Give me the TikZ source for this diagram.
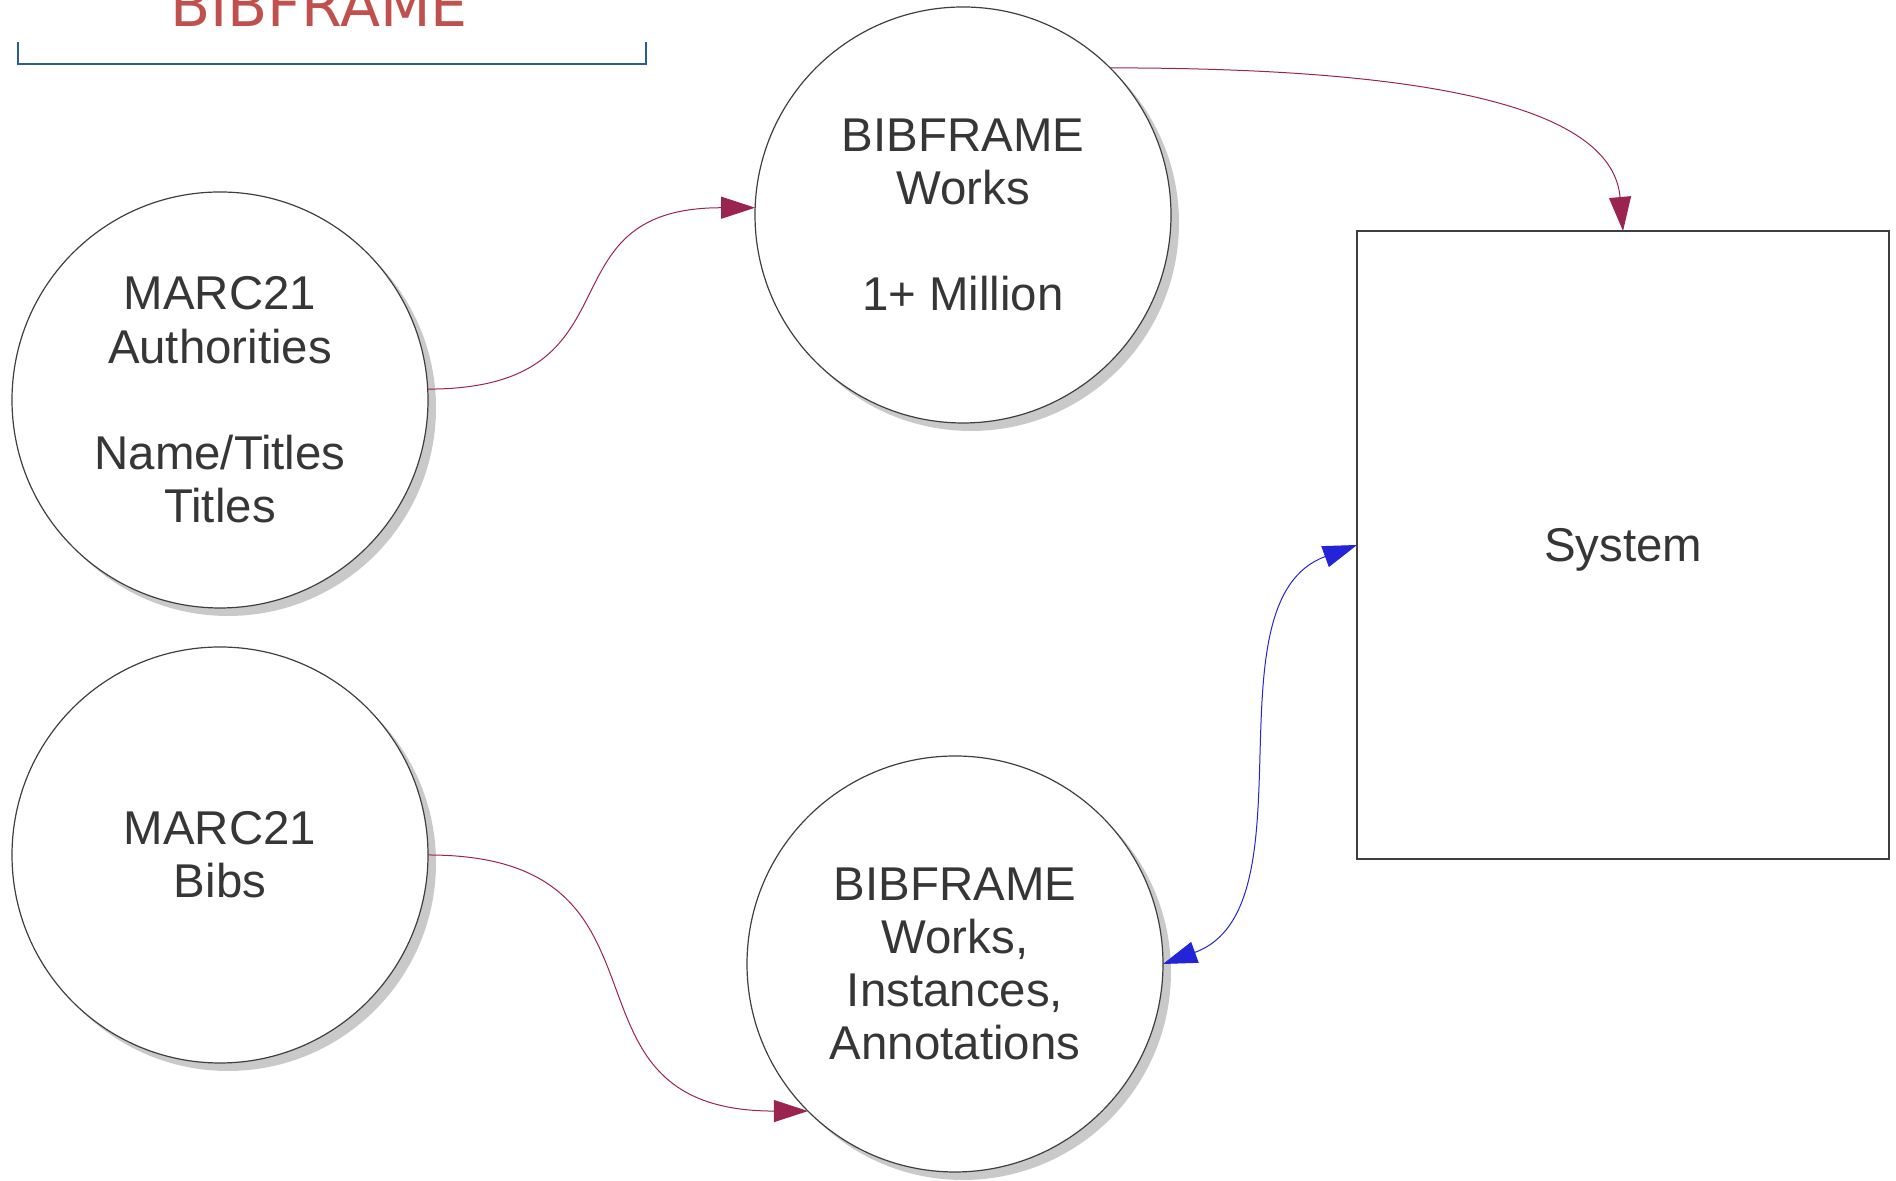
\documentclass[tikz,border=0pt]{standalone}
\usepackage{fontspec}
\setmainfont{Liberation Sans}
\newfontfamily\titlefont{DejaVu Sans}
\usepackage{xcolor}
\usepackage{tikz}
\usetikzlibrary{arrows.meta, positioning, shadows}
\definecolor{textgray}{HTML}{363636}
\definecolor{linegray}{HTML}{3F3F3F}
\definecolor{crimson}{HTML}{9B2350}
\definecolor{flowblue}{HTML}{2323D8}
\definecolor{titlered}{HTML}{C0504D}
\definecolor{bracketblue}{HTML}{2A5C9A}
\tikzset{%
  >={Triangle[width=11pt, length=17pt]},
  base/.style = {draw = linegray, line width = 0.6pt, text = textgray, text centered, align = center, inner sep = 0pt, outer sep = 0pt, font = \fontsize{23.7}{26.6}\selectfont},
  Store/.style = {base, circle, minimum size = 208pt, fill = white, drop shadow = {shadow xshift = 4pt, shadow yshift = -4pt, fill = black!21, opacity = 1}},
  Process/.style = {base, rectangle, minimum width = 266pt, minimum height = 314pt, fill = white},
  flow/.style = {->, draw = crimson, line width = 0.5pt},
  link/.style = {<->, draw = flowblue, line width = 0.5pt}
}
\begin{document}
\begin{tikzpicture}[x=0.5pt, y=0.5pt]
    \useasboundingbox (0,0) rectangle (1896,1181);
    \node[font=\titlefont\fontsize{29.3}{32}\selectfont, text=titlered, anchor=base] at (319,1154) (Title) {BIBFRAME};
    \draw[bracketblue, line width=1pt] (18,1139) -- (18,1117) -- (646,1117) -- (646,1139);
    \node at (220,781) (Authorities) [Store] {MARC21\\Authorities\\[26.6pt]Name/Titles\\Titles};
    \node at (220,326) (Bibs) [Store] {MARC21\\Bibs};
    \node at (963,966) (Works) [Store] {BIBFRAME\\Works\\[26.6pt]1+ Million};
    \node at (955,217) (Resources) [Store] {BIBFRAME\\Works,\\Instances,\\Annotations};
    \node at (1623,636) (System) [Process, text depth=0pt] {System};
    \draw[flow] (Authorities.3) to [out=0, in=180, looseness=1.5] (Works.178);
    \draw[flow] (Works.45) .. controls +(0:169pt) and +(95:60pt) .. (System.north);
    \draw[flow] (Bibs.east) to [out=0, in=180, looseness=1.5] (Resources.225);
    \draw[link] (Resources.east) to [out=20, in=200, looseness=0.9] (System.west);
\end{tikzpicture}
\end{document}
